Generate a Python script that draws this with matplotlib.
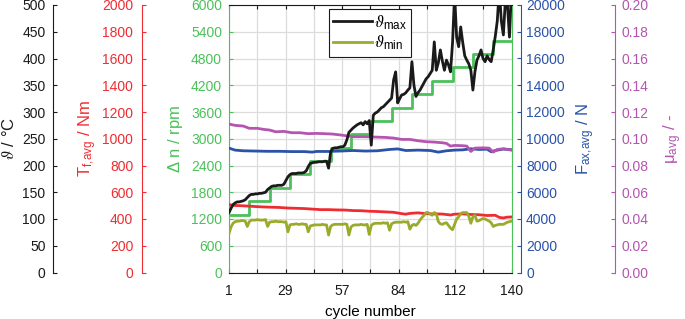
import numpy as np
import matplotlib
matplotlib.use("Agg")
import matplotlib.pyplot as plt
from matplotlib.ticker import FixedLocator, FormatStrFormatter

plt.rcParams['font.family'] = ['Liberation Sans', 'DejaVu Sans']
plt.rcParams['mathtext.fontset'] = 'custom'
plt.rcParams['mathtext.rm'] = 'Liberation Sans'
plt.rcParams['mathtext.it'] = 'STIXGeneral:italic'
plt.rcParams['mathtext.fallback'] = 'stix'
plt.rcParams['font.size'] = 10

# ---------------- data ----------------
cycles = np.arange(1, 141)

theta_max = [112, 120, 127, 130, 132, 132, 133, 134, 136, 140,
             144, 146, 146, 147, 147, 148, 148, 149, 150, 155,
             158, 161, 162, 162, 163, 163, 163, 165, 172, 179,
             183, 185, 185, 185, 186, 186, 186, 187, 190, 198,
             204, 205, 206, 206, 207, 207, 207, 208, 208, 195,
             225, 232, 233, 233, 234, 235, 235, 238, 248, 262,
             266, 270, 273, 276, 278, 280, 276, 282, 278, 284,
             238, 294, 298, 300, 304, 308, 310, 314, 318, 322,
             326, 360, 375, 317, 325, 332, 333, 336, 341, 345,
             394, 350, 329, 336, 341, 348, 355, 362, 366, 372,
             378, 431, 378, 392, 416, 395, 378, 397, 388, 375,
             430, 520, 440, 422, 459, 430, 405, 397, 390, 378,
             341, 375, 397, 405, 416, 400, 394, 405, 398, 394,
             416, 441, 470, 530, 470, 444, 510, 500, 440, 530]

theta_min = [73, 85, 92, 95, 96, 96, 97, 97, 96, 86,
             95, 98, 98, 98, 99, 98, 98, 98, 99, 86,
             94, 95, 95, 96, 95, 95, 95, 94, 95, 76,
             89, 90, 90, 91, 90, 90, 91, 90, 90, 76,
             87, 88, 89, 89, 89, 89, 90, 89, 89, 70,
             86, 89, 90, 90, 90, 90, 90, 91, 90, 70,
             85, 88, 89, 89, 89, 90, 89, 89, 90, 71,
             88, 91, 92, 92, 92, 92, 93, 92, 93, 79,
             91, 93, 94, 94, 94, 94, 95, 94, 95, 81,
             88, 90, 88, 92, 98, 103, 107, 112, 112, 109,
             107, 112, 110, 95, 91, 90, 92, 93, 88, 83,
             80, 90, 100, 104, 110, 112, 112, 112, 105, 92,
             104, 107, 96, 97, 99, 101, 100, 98, 96, 93,
             86, 88, 89, 90, 90, 90, 92, 94, 95, 96]

dn_step_start = [1, 11, 21, 31, 41, 51, 61, 71, 81, 91, 101, 111, 121, 131, 140]
dn_levels = [1300, 1600, 1900, 2200, 2500, 2800, 3100, 3400, 3700, 4000,
             4300, 4600, 4900, 5200, 5200]

torque_cycles = [1, 3, 6, 10, 14, 18, 22, 26, 30, 34, 38, 42, 46, 50, 54, 58,
                 62, 66, 70, 74, 78, 82, 86, 88, 90, 94, 98, 102, 106, 110,
                 112, 116, 120, 124, 128, 132, 134, 136, 138, 140]
torque_vals = [508, 502, 500, 497, 493, 490, 488, 486, 482, 480, 478, 474, 470,
               470, 468, 467, 463, 462, 458, 456, 453, 450, 440, 436, 442, 446,
               440, 438, 437, 430, 436, 438, 434, 432, 426, 428, 412, 408, 414, 415]

force_cycles = [1, 2, 4, 8, 14, 20, 26, 32, 38, 42, 44, 50, 56, 62, 68, 74, 80,
                84, 88, 94, 100, 104, 108, 112, 116, 120, 124, 128, 130, 132,
                136, 140]
force_vals = [9300, 9250, 9150, 9100, 9080, 9060, 9060, 9040, 9040, 9000, 9050,
              9050, 9080, 9120, 9080, 9100, 9200, 9240, 9120, 9150, 9120, 9000,
              9100, 9150, 9170, 9250, 9200, 9220, 9030, 9120, 9230, 9180]

mu_cycles = [1, 4, 8, 11, 15, 18, 21, 24, 28, 32, 36, 40, 44, 48, 52, 56, 60,
             62, 68, 74, 78, 82, 86, 90, 94, 98, 102, 106, 108, 110, 112, 116,
             118, 120, 122, 126, 129, 131, 133, 136, 140]
mu_vals = [0.111, 0.110, 0.1095, 0.1078, 0.1078, 0.107, 0.1065, 0.1052, 0.1055,
           0.1045, 0.1045, 0.1038, 0.1040, 0.1038, 0.1035, 0.1028, 0.1020,
           0.1015, 0.1015, 0.1012, 0.1010, 0.1005, 0.0995, 0.0995, 0.0985,
           0.0978, 0.0975, 0.0970, 0.0965, 0.0945, 0.0950, 0.0948, 0.0945,
           0.0905, 0.0930, 0.0932, 0.0930, 0.0900, 0.0920, 0.0925, 0.0915]

x_grid = np.linspace(1, 140, 11)
x_labels = ['1', '', '29', '', '57', '', '84', '', '112', '', '140']

# ---------------- colours ----------------
C_BLACK = '#1a1a1a'
C_OLIVE = '#9aab2b'
C_GREEN = '#4cc05a'
C_RED = '#ee2d33'
C_BLUE = '#2a52a8'
C_PURPLE = '#b455b0'

fig = plt.figure(figsize=(6.85, 3.19), dpi=100)
W, H = 685, 319
ax = fig.add_axes([229 / W, (H - 272.5) / H, 282.5 / W, 267.5 / H])

LW = 2.0
TL = 3
LFS = 12

# host axis: delta n (green)
ax.plot(dn_step_start, dn_levels, color=C_GREEN, lw=LW, drawstyle='steps-post')
ax.set_xlim(1, 140)
ax.set_ylim(0, 6000)
ax.yaxis.set_major_locator(FixedLocator(np.arange(0, 6001, 600)))
ax.xaxis.set_major_locator(FixedLocator(x_grid))
ax.set_xticklabels(x_labels)
ax.grid(True, color='#dcdcdc', lw=0.9)
ax.set_axisbelow(True)
ax.tick_params(axis='x', direction='in', top=True, length=TL, width=0.8,
               colors=C_BLACK, labelsize=10, pad=8)
ax.tick_params(axis='y', direction='in', left=True, right=False, length=TL,
               width=0.8, colors=C_GREEN, labelsize=10, pad=5)
for s in ['top', 'bottom']:
    ax.spines[s].set_color(C_BLACK)
for s in ['left', 'right']:
    ax.spines[s].set_color(C_GREEN)
for s in ax.spines.values():
    s.set_linewidth(0.8)
ax.set_ylabel(r'$\Delta$ n / rpm', color=C_GREEN, fontsize=LFS, labelpad=4)
ax.set_xlabel('cycle number', fontsize=11, labelpad=5)


def make_twin(side, offset_px, color, ylim, ticks, label, fmt, labelpad, pad):
    t = ax.twinx()
    for s in t.spines.values():
        s.set_visible(False)
    sp = t.spines[side]
    sp.set_visible(True)
    sp.set_position(('outward', offset_px * 72 / 100))
    sp.set_color(color)
    sp.set_linewidth(0.8)
    t.yaxis.set_ticks_position(side)
    t.yaxis.set_label_position(side)
    t.set_ylim(*ylim)
    t.yaxis.set_major_locator(FixedLocator(ticks))
    t.yaxis.set_major_formatter(FormatStrFormatter(fmt))
    t.tick_params(axis='y', direction='in', length=TL, width=0.8, colors=color,
                  labelsize=10, pad=pad)
    t.set_ylabel(label, color=color, fontsize=LFS, labelpad=labelpad)
    return t


ax_f = make_twin('right', 9, C_BLUE, (0, 20000), np.arange(0, 20001, 2000),
                 r'F$_{\mathrm{ax,\!avg}}$ / N', '%d', 7, 4)
ax_mu = make_twin('right', 103.5, C_PURPLE, (0, 0.2), np.linspace(0, 0.2, 11),
                  r'μ$_{\mathrm{avg}}$ / -', '%.2f', 9, 5)
ax_t = make_twin('left', 87.5, C_RED, (0, 2000), np.arange(0, 2001, 200),
                 r'T$_{\mathrm{f,\!avg}}$ / Nm', '%d', 2, 6)
ax_th = make_twin('left', 176.5, C_BLACK, (0, 500), np.arange(0, 501, 50),
                  r'$\vartheta$ / °C', '%d', 4, 5)

ax_f.plot(force_cycles, force_vals, color=C_BLUE, lw=LW)
ax_mu.plot(mu_cycles, mu_vals, color=C_PURPLE, lw=LW)
ax_t.plot(torque_cycles, torque_vals, color=C_RED, lw=LW)
l1, = ax_th.plot(cycles, theta_max, color=C_BLACK, lw=LW)
l2, = ax_th.plot(cycles, theta_min, color=C_OLIVE, lw=LW)

leg = ax_th.legend([l1, l2], [r'$\vartheta_{\mathrm{max}}$', r'$\vartheta_{\mathrm{min}}$'],
                   loc='upper left', bbox_to_anchor=(0.354, 0.985),
                   fontsize=12, handlelength=2.3, handletextpad=0.15,
                   borderpad=0.25, labelspacing=0.15, fancybox=False,
                   framealpha=1, edgecolor=C_BLACK, borderaxespad=0)
leg.get_frame().set_linewidth(0.8)

fig.savefig('out.png', dpi=100)
